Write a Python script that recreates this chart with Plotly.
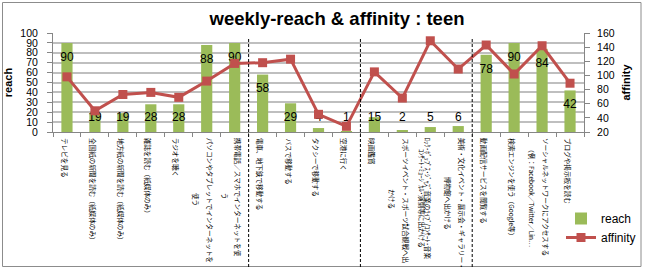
import plotly.graph_objects as go

# ---------------- data ----------------
label_columns = [
    ["テレビを見る"],
    ["全国紙の新聞を読む（紙媒体のみ）"],
    ["地方紙の新聞を読む（紙媒体のみ）"],
    ["雑誌を読む（紙媒体のみ）"],
    ["ラジオを聴く"],
    ["パソコンやタブレットでインターネットを", "使う"],
    ["携帯電話／スマホでインターネットを使", "う"],
    ["電車、地下鉄で移動する"],
    ["バスで移動する"],
    ["タクシーで移動する"],
    ["空港に行く"],
    ["映画鑑賞"],
    ["スポーツイベント・スポーツ試合観戦へ出", "かける"],
    ["ﾛｯｸ･ﾎﾟｯﾌﾟｽ･ｼﾞｬｽﾞ音楽のﾗｲﾌﾞ/ｺﾝｻｰﾄ･音楽", "ｺﾝｻｰﾄ･ﾐｭｰｼﾞｶﾙ･演劇等に出かける"],
    ["美術・文化イベント・展示会・ギャラリー・", "博物館へ出かける"],
    ["動画配信サービスを閲覧する"],
    ["検索エンジンを使う（Google等）"],
    ["ソーシャルネットワークにアクセスする", "（例：Facebook／Twitter／Lin…"],
    ["ブログや掲示板を読む"],
]
categories = ["".join(c) for c in label_columns]
reach = [90, 19, 19, 28, 28, 88, 90, 58, 29, 4, 1, 15, 2, 5, 6, 78, 90, 84, 42]
affinity = [98, 50, 73, 76, 69, 92, 117, 118, 123, 45, 28, 105, 68, 149, 109, 143, 102, 142, 89]
group_breaks = [6.5, 10.5, 14.5]

# ---------------- geometry ----------------
W, H = 647, 271
L, R, T, B = 53, 63, 33, 139
PW, PH = W - L - R, H - T - B
AXIS_Y = T + PH  # pixel y of x-axis
LABEL_FS = 6.6


def py(ypx):
    """pixel y -> paper y"""
    return (AXIS_Y - ypx) / PH


def px(xpx):
    return (xpx - L) / PW


def text_len(s):
    n = 0.0
    for c in s:
        o = ord(c)
        if o < 0x100:
            n += 0.55
        elif 0xFF61 <= o <= 0xFF9F:
            n += 0.5
        else:
            n += 1.0
    return n * LABEL_FS


fig = go.Figure()
fig.add_bar(x=categories, y=reach, name="reach", marker_color="#9BBB59",
            marker_line_width=0, width=0.4, yaxis="y", hoverinfo="skip")
label_y = [max(v - 15, 14.5) for v in reach]
fig.add_scatter(x=categories, y=label_y, mode="text", text=[str(v) for v in reach],
                textfont=dict(family="Liberation Sans", size=12, color="black"),
                showlegend=False, hoverinfo="skip", yaxis="y")
fig.add_scatter(x=categories, y=affinity, name="affinity", mode="lines+markers",
                line=dict(color="#C0504D", width=3),
                marker=dict(symbol="square", size=9, color="#C0504D"),
                yaxis="y2", hoverinfo="skip")

# ---------------- vertical category labels (Excel-style columns) ----------------
annotations = []
for i, cols in enumerate(label_columns):
    if len(cols) == 1:
        xs = [-2]
    elif i == 13:
        xs = [-2, -9]
    else:
        xs = [4, -10]
    first_len = text_len(cols[0])
    for j, col in enumerate(cols):
        if j == 0:
            yanchor, yshift = "top", -4
        else:
            yanchor, yshift = "middle", -(5 + first_len / 2)
        annotations.append(dict(
            x=categories[i], xref="x", y=0, yref="paper", xanchor="center", yanchor=yanchor,
            xshift=xs[j], yshift=yshift, textangle=90, text=col, showarrow=False,
            font=dict(family="Noto Sans CJK JP", size=LABEL_FS, color="black"),
        ))

shapes = []
for xb in group_breaks:
    shapes.append(dict(type="line", xref="x", yref="paper", x0=xb, x1=xb,
                       y0=py(267), y1=py(37),
                       line=dict(color="black", width=1, dash="3px,2px")))
shapes.append(dict(type="rect", xref="paper", yref="paper",
                   x0=px(2.5), x1=px(641), y0=py(266.5), y1=py(2.5),
                   line=dict(color="#8C8C8C", width=1), layer="below"))

axis_font = dict(family="Liberation Sans", size=10.5, color="black")
fig.update_layout(
    width=W, height=H,
    margin=dict(l=L, r=R, t=T, b=B, autoexpand=False),
    paper_bgcolor="white", plot_bgcolor="white",
    title=dict(text="<b>weekly-reach &amp; affinity : teen</b>", x=337 / W, xanchor="center",
               y=1 - 19 / H, yanchor="middle", yref="container",
               font=dict(family="Liberation Sans", size=18.5, color="black")),
    showlegend=True,
    legend=dict(x=px(561), y=py(204), xanchor="left", yanchor="top",
                bgcolor="rgba(0,0,0,0)", font=dict(family="Liberation Sans", size=12, color="black"),
                tracegroupgap=0),
    bargap=0.6,
    xaxis=dict(type="category", range=[-0.5, len(categories) - 0.5], showticklabels=False,
               ticks="outside", tickson="boundaries", ticklen=4, tickcolor="#868686",
               showline=True, linecolor="#868686", linewidth=1, showgrid=False, zeroline=False,
               automargin=False, fixedrange=True),
    yaxis=dict(range=[0, 100], dtick=10, showgrid=True, gridcolor="#BFBFBF", gridwidth=1.5,
               showline=True, linecolor="#868686", ticks="outside", ticklen=5, tickcolor="#868686",
               tickfont=axis_font, zeroline=False, ticklabelstandoff=7, automargin=False,
               title=dict(text="<b>reach</b>", font=dict(family="Liberation Sans", size=11, color="black"),
                          standoff=5)),
    yaxis2=dict(range=[20, 160], dtick=20, overlaying="y", side="right", showgrid=False,
                showline=True, linecolor="#868686", ticks="outside", ticklen=5, tickcolor="#868686",
                tickfont=axis_font, zeroline=False, ticklabelstandoff=5, automargin=False,
                title=dict(text="<b>affinity</b>", font=dict(family="Liberation Sans", size=11, color="black"),
                           standoff=8)),
    annotations=annotations,
    shapes=shapes,
)

fig.write_html("out.html")
